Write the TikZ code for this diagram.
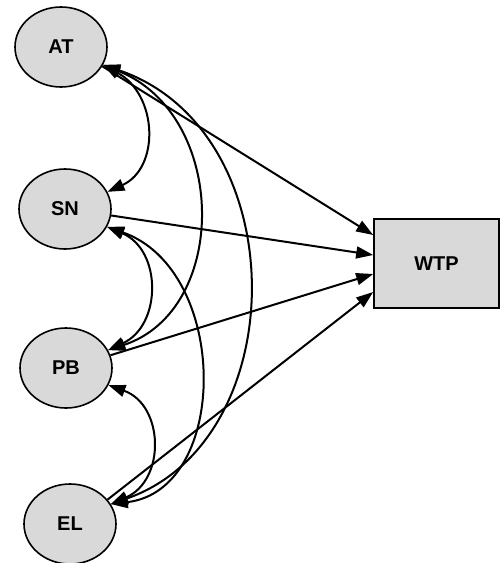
\documentclass[tikz,border=0pt]{standalone}
\usepackage{fontspec}
\setmainfont{Liberation Sans}
\usetikzlibrary{arrows.meta,shapes.geometric}
\definecolor{nodefill}{HTML}{D9D9D9}
\begin{document}
\begin{tikzpicture}[x=1pt,y=-1pt,
  labelfont/.style={font=\fontsize{20}{23}\selectfont\bfseries},
  latent/.style={ellipse,draw=black,line width=1.6pt,fill=nodefill,
    minimum width=92pt,minimum height=80pt,inner sep=0pt,labelfont},
  outcome/.style={rectangle,draw=black,line width=1.6pt,fill=nodefill,
    minimum width=125pt,minimum height=89pt,inner sep=0pt,labelfont},
  reg/.style={line width=2pt,-{Triangle[length=17pt,width=12pt]}},
  cov/.style={line width=2pt,{Triangle[length=17pt,width=12pt]}-{Triangle[length=17pt,width=12pt]}}]
\useasboundingbox (0,0) rectangle (500,563);

% predictors
\node[latent] (AT) at (61,47)  {AT};
\node[latent] (SN) at (65,209) {SN};
\node[latent] (PB) at (66,368) {PB};
\node[latent] (EL) at (70,524) {EL};
% outcome
\node[outcome] (WTP) at (436.5,263.5) {WTP};

% regression paths
\draw[reg] (AT.-25) -- ([yshift=28.5pt]WTP.west);
\draw[reg] (SN.-8)  -- ([yshift=8.5pt]WTP.west);
\draw[reg] (PB.16)  -- ([yshift=-10.5pt]WTP.west);
\draw[reg] (EL.33)  -- ([yshift=-28.5pt]WTP.west);

% covariances
\draw[cov] (AT.-23) .. controls (158,95)  and (160,168) .. (SN.22);
\draw[cov] (SN.-23) .. controls (162,250) and (162,325) .. (PB.23);
\draw[cov] (PB.-22) .. controls (164,405) and (166,480) .. (EL.26);
\draw[cov] (AT.-23) .. controls (228,115) and (230,310) .. (PB.23);
\draw[cov] (SN.-23) .. controls (230,270) and (230,490) .. (EL.26);
\draw[cov] (AT.-23) .. controls (295,130) and (295,440) .. (EL.26);
\end{tikzpicture}
\end{document}
